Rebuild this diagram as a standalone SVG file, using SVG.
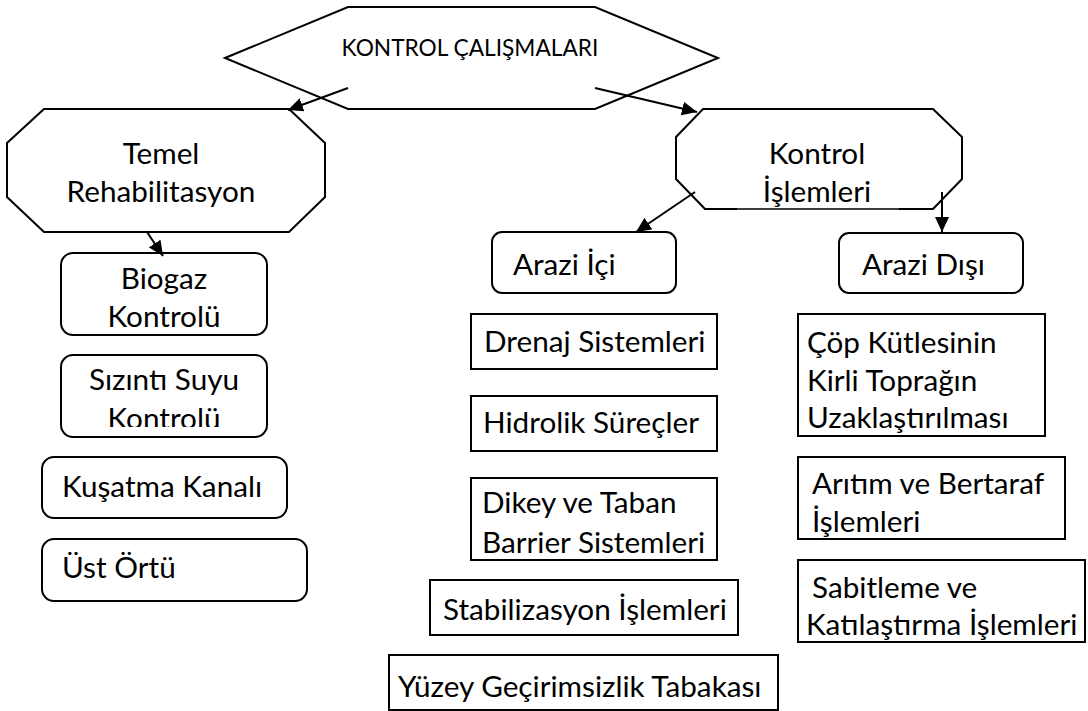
<svg xmlns="http://www.w3.org/2000/svg" width="1088" height="711" viewBox="0 0 1088 711">
  <style>
    .shape { fill: #ffffff; stroke: #000000; stroke-width: 2; }
    .lbl { font-family: "Lato", "Carlito", "Liberation Sans", sans-serif; font-size: 29.7px; fill: #000000; }
    .mid { text-anchor: middle; }
    .title { font-size: 22.7px; }
    .conn { stroke: #000000; stroke-width: 2; fill: none; marker-end: url(#arrow); }
  </style>
  <defs>
    <marker id="arrow" markerUnits="userSpaceOnUse" markerWidth="16" markerHeight="14" refX="15" refY="7" orient="auto">
      <path d="M0,0 L15,7 L0,14 z" fill="#000000"/>
    </marker>
    <clipPath id="clip-sizinti">
      <rect x="61" y="355" width="206" height="72"/>
    </clipPath>
  </defs>
  <rect width="1088" height="711" fill="#ffffff"/>

  <!-- root hexagon -->
  <g id="kontrol-calismalari">
    <polygon class="shape" points="225,58 348,7 595,7 718,58 595,109 348,109"/>
    <text class="lbl title mid" x="470" y="56">KONTROL ÇALIŞMALARI</text>
  </g>

  <!-- left branch -->
  <g id="temel-rehabilitasyon">
    <polygon class="shape" points="44,109 289,109 325,143 325,197 289,232 44,232 7,197 7,143"/>
    <text class="lbl mid" x="161" y="164">Temel</text>
    <text class="lbl mid" x="161" y="202">Rehabilitasyon</text>
  </g>
  <g id="biogaz-kontrolu">
    <rect class="shape" x="61" y="253" width="206" height="82" rx="12"/>
    <text class="lbl mid" x="164" y="289">Biogaz</text>
    <text class="lbl mid" x="164" y="327">Kontrolü</text>
  </g>
  <g id="sizinti-suyu-kontrolu">
    <rect class="shape" x="61" y="355" width="206" height="82" rx="12"/>
    <g clip-path="url(#clip-sizinti)">
      <text class="lbl mid" x="164" y="390">Sızıntı Suyu</text>
      <text class="lbl mid" x="164" y="429">Kontrolü</text>
    </g>
  </g>
  <g id="kusatma-kanali">
    <rect class="shape" x="42" y="457" width="245" height="61" rx="12"/>
    <text class="lbl" x="62" y="497">Kuşatma Kanalı</text>
  </g>
  <g id="ust-ortu">
    <rect class="shape" x="42" y="539" width="265" height="62" rx="12"/>
    <text class="lbl" x="62" y="578">Üst Örtü</text>
  </g>

  <!-- right branch -->
  <g id="kontrol-islemleri">
    <polygon class="shape" points="737,209 705,209 676,179 676,137 703,109 933,109 962,137 962,179 933,209 899,209"/>
    <line x1="737" y1="209" x2="899" y2="209" stroke="#7f7f7f" stroke-width="1"/>
    <text class="lbl mid" x="817" y="164">Kontrol</text>
    <text class="lbl mid" x="817" y="202">İşlemleri</text>
  </g>
  <g id="arazi-ici">
    <rect class="shape" x="492" y="232" width="184" height="61" rx="10"/>
    <text class="lbl" x="513" y="275">Arazi İçi</text>
  </g>
  <g id="arazi-disi">
    <rect class="shape" x="839" y="233" width="184" height="60" rx="10"/>
    <text class="lbl" x="862" y="275">Arazi Dışı</text>
  </g>

  <!-- on-site measures -->
  <g id="drenaj-sistemleri">
    <rect class="shape" x="471" y="314" width="246" height="55"/>
    <text class="lbl" x="484" y="352">Drenaj Sistemleri</text>
  </g>
  <g id="hidrolik-surecler">
    <rect class="shape" x="471" y="396" width="246" height="55"/>
    <text class="lbl" x="483" y="433">Hidrolik Süreçler</text>
  </g>
  <g id="dikey-taban">
    <rect class="shape" x="471" y="478" width="246" height="82"/>
    <text class="lbl" x="482" y="513">Dikey ve Taban</text>
    <text class="lbl" x="482" y="553">Barrier Sistemleri</text>
  </g>
  <g id="stabilizasyon">
    <rect class="shape" x="430" y="580" width="308" height="55"/>
    <text class="lbl" x="443" y="620">Stabilizasyon İşlemleri</text>
  </g>
  <g id="yuzey-gecirimsizlik">
    <rect class="shape" x="389" y="655" width="389" height="55"/>
    <text class="lbl" x="398" y="697">Yüzey Geçirimsizlik Tabakası</text>
  </g>

  <!-- off-site measures -->
  <g id="cop-kutlesi">
    <rect class="shape" x="798" y="314" width="247" height="122"/>
    <text class="lbl" x="807" y="353">Çöp Kütlesinin</text>
    <text class="lbl" x="807" y="391">Kirli Toprağın</text>
    <text class="lbl" x="807" y="428">Uzaklaştırılması</text>
  </g>
  <g id="aritim-bertaraf">
    <rect class="shape" x="798" y="457" width="267" height="82"/>
    <text class="lbl" x="812" y="494">Arıtım ve Bertaraf</text>
    <text class="lbl" x="812" y="532">İşlemleri</text>
  </g>
  <g id="sabitleme">
    <rect class="shape" x="798" y="560" width="287" height="82"/>
    <text class="lbl" x="812" y="598">Sabitleme ve</text>
    <text class="lbl" x="806" y="635">Katılaştırma İşlemleri</text>
  </g>

  <!-- connectors -->
  <g id="connectors">
    <line class="conn" x1="348" y1="88" x2="288" y2="110"/>
    <line class="conn" x1="595" y1="88" x2="697" y2="112"/>
    <line class="conn" x1="147" y1="232" x2="163" y2="256"/>
    <line class="conn" x1="695" y1="192" x2="636" y2="232"/>
    <line class="conn" x1="942" y1="192" x2="942" y2="232"/>
  </g>
</svg>
